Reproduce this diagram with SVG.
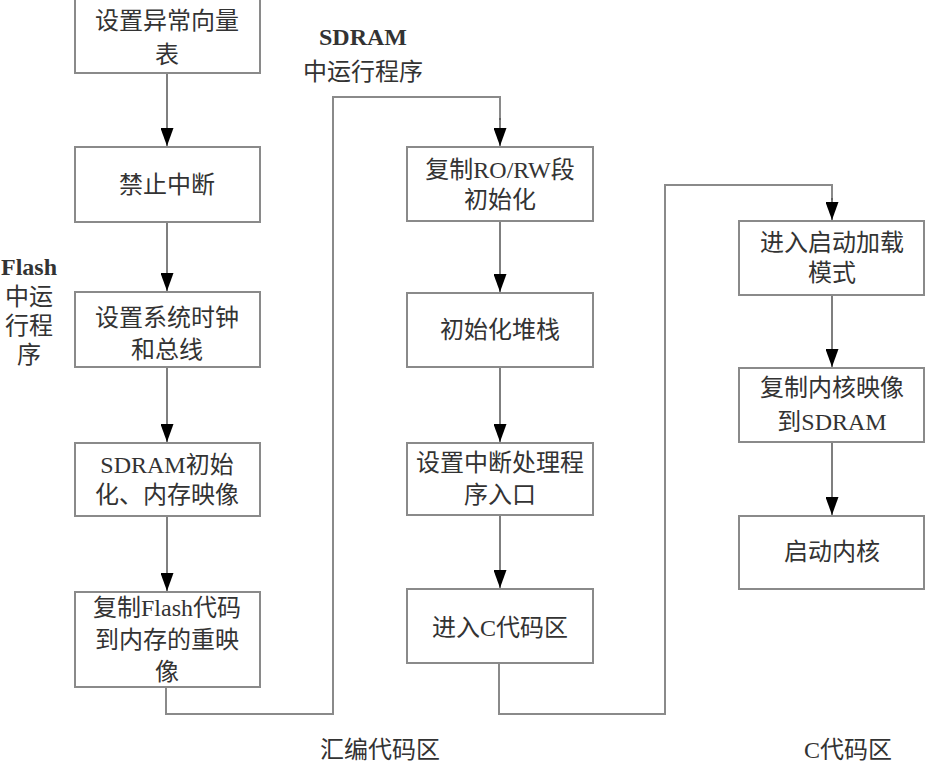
<svg xmlns="http://www.w3.org/2000/svg" width="926" height="771" viewBox="0 0 926 771">
<defs>
<marker id="arr" viewBox="0 0 18 13" refX="18" refY="6.5" markerWidth="18" markerHeight="13" markerUnits="userSpaceOnUse" orient="auto"><path d="M0,0 L18,6.5 L0,13 z" fill="#000"/></marker>
<style>
.box{fill:#fff;stroke:#8a8a8a;stroke-width:2}
.t{font-family:"Liberation Serif","Noto Sans CJK SC",serif;font-size:24px;fill:#333;text-anchor:middle}
.l{font-weight:bold}
.c{fill:none;stroke:#8a8a8a;stroke-width:2}
.a{fill:none;stroke:#555;stroke-width:1.5;marker-end:url(#arr)}
</style>
</defs>
<rect width="926" height="771" fill="#fff"/>
<g id="connectors">
<path class="a" d="M167,74 V146"/>
<path class="a" d="M167,223 V291"/>
<path class="a" d="M167,368 V442"/>
<path class="a" d="M167,517 V591"/>
<path class="c" d="M166,688 V714 H333 V97 H500 V120"/>
<path class="a" d="M500,118 V146"/>
<path class="a" d="M500,222 V292"/>
<path class="a" d="M500,368 V442"/>
<path class="a" d="M500,516 V588"/>
<path class="c" d="M499,664 V714 H665 V185 H832 V200"/>
<path class="a" d="M832,198 V220"/>
<path class="a" d="M832,296 V367"/>
<path class="a" d="M832,443 V515"/>
</g>
<g id="n1"><rect class="box" x="75" y="-2" width="185" height="75"/><text class="t" x="167" y="29">设置异常向量</text><text class="t" x="167" y="63">表</text></g>
<g id="n2"><rect class="box" x="75" y="147" width="185" height="75"/><text class="t" x="167" y="193">禁止中断</text></g>
<g id="n3"><rect class="box" x="75" y="292" width="185" height="75"/><text class="t" x="167" y="326">设置系统时钟</text><text class="t" x="167" y="358">和总线</text></g>
<g id="n4"><rect class="box" x="75" y="443" width="185" height="73"/><text class="t" x="167" y="473">SDRAM初始</text><text class="t" x="167" y="503">化、内存映像</text></g>
<g id="n5"><rect class="box" x="75" y="592" width="185" height="95"/><text class="t" x="167" y="616">复制Flash代码</text><text class="t" x="167" y="648">到内存的重映</text><text class="t" x="167" y="680">像</text></g>
<g id="n6"><rect class="box" x="407" y="147" width="186" height="74"/><text class="t" x="500" y="178">复制RO/RW段</text><text class="t" x="500" y="208">初始化</text></g>
<g id="n7"><rect class="box" x="407" y="293" width="186" height="74"/><text class="t" x="500" y="338">初始化堆栈</text></g>
<g id="n8"><rect class="box" x="407" y="443" width="186" height="72"/><text class="t" x="500" y="471">设置中断处理程</text><text class="t" x="500" y="503">序入口</text></g>
<g id="n9"><rect class="box" x="407" y="589" width="186" height="74"/><text class="t" x="500" y="636">进入C代码区</text></g>
<g id="n10"><rect class="box" x="739" y="221" width="185" height="74"/><text class="t" x="832" y="251">进入启动加载</text><text class="t" x="832" y="281">模式</text></g>
<g id="n11"><rect class="box" x="739" y="368" width="185" height="74"/><text class="t" x="832" y="396">复制内核映像</text><text class="t" x="832" y="430">到SDRAM</text></g>
<g id="n12"><rect class="box" x="739" y="516" width="185" height="73"/><text class="t" x="832" y="560">启动内核</text></g>
<g id="labels">
<text class="t l" x="363" y="45">SDRAM</text>
<text class="t" x="363" y="80">中运行程序</text>
<text class="t l" x="29" y="275">Flash</text>
<text class="t" x="29" y="305">中运</text>
<text class="t" x="29" y="334">行程</text>
<text class="t" x="29" y="363">序</text>
<text class="t" x="380" y="758">汇编代码区</text>
<text class="t" x="848" y="758">C代码区</text>
</g>
</svg>
